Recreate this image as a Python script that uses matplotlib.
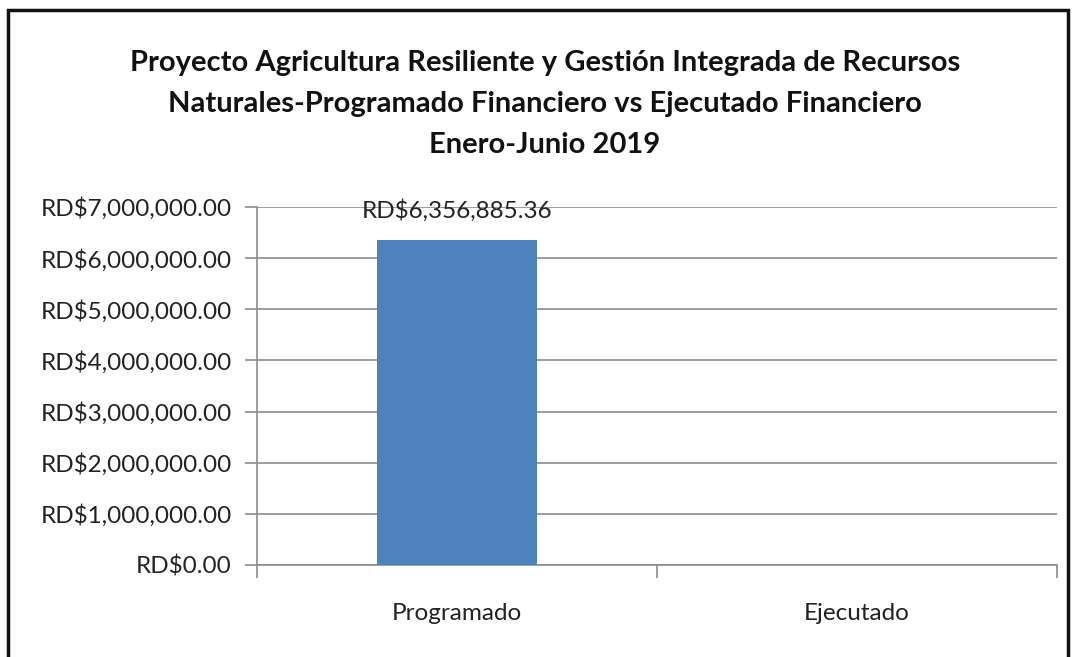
import numpy as np
import matplotlib.pyplot as plt
from matplotlib.patches import Rectangle
from matplotlib.ticker import FuncFormatter

# datos
categorias = ["Programado", "Ejecutado"]
valores = [6356885.36, np.nan]
etiquetas = ["RD$6,356,885.36", ""]
titulo = ("Proyecto Agricultura Resiliente y Gestión Integrada de Recursos\n"
          "Naturales-Programado Financiero vs Ejecutado Financiero\n"
          "Enero-Junio 2019")

plt.rcParams['font.family'] = ['Lato', 'DejaVu Sans']

W, H = 1074, 657
fig = plt.figure(figsize=(W/100, H/100), dpi=100)
ax = fig.add_axes([257/W, 1-565/H, (1057-257)/W, (565-207)/H])

x = np.arange(len(categorias))
ax.bar(x, valores, width=0.4, color="#4F81BD", zorder=3)
for xi, v, t in zip(x, valores, etiquetas):
    if t:
        ax.text(xi, 6.94e6, t, ha="center", va="center", fontsize=17.5, color="#222222")

ax.set_xlim(-0.5, 1.5)
ax.set_ylim(0, 7e6)
ax.set_yticks(np.arange(0, 7e6+1, 1e6))
ax.yaxis.set_major_formatter(FuncFormatter(lambda v, p: "RD${:,.2f}".format(v)))
ax.grid(axis="y", color="#8c8c8c", lw=1.2, zorder=0)

ax.set_xticks(x)
ax.set_xticklabels(categorias)
ax.set_xticks([-0.5, 0.5, 1.5], minor=True)
ax.tick_params(axis="x", which="major", length=0, pad=27, labelsize=17.5, labelcolor="#222222")
ax.tick_params(axis="x", which="minor", length=9, color="#8c8c8c", width=1.2)
ax.tick_params(axis="y", length=9, color="#8c8c8c", width=1.2, pad=9, labelsize=17.5, labelcolor="#222222")

for s in ["top", "right"]:
    ax.spines[s].set_visible(False)
for s in ["left", "bottom"]:
    ax.spines[s].set_color("#8c8c8c")
    ax.spines[s].set_linewidth(1.2)

fig.text(545/W, 1-104/H, titulo, ha="center", va="center", fontsize=21,
         fontweight="bold", linespacing=1.7, color="#111111")

# marco exterior
fig.patches.append(Rectangle((8/W, -0.05), (1068-8)/W, 1-10/H+0.05,
                             transform=fig.transFigure, fill=False,
                             ec="#111111", lw=2.5))

fig.savefig("out.png", dpi=100)
